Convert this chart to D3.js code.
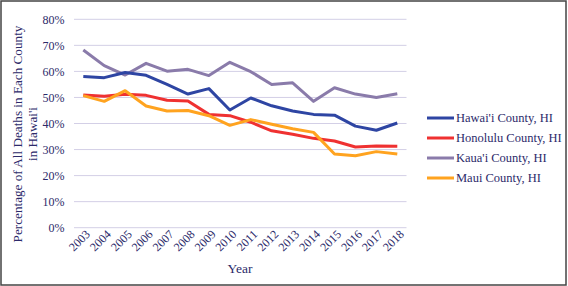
<!DOCTYPE html>
<html><head><meta charset="utf-8">
<script src="https://cdn.jsdelivr.net/npm/d3@7"></script>
<style>body{margin:0;background:#fff}svg{display:block}</style>
</head><body>
<script>
const years = ["2003","2004","2005","2006","2007","2008","2009","2010","2011","2012","2013","2014","2015","2016","2017","2018"];
const hawaii   = [58.0,57.6,59.6,58.5,55.0,51.3,53.4,45.2,49.8,46.8,44.8,43.5,43.2,39.0,37.4,40.2];
const honolulu = [50.9,50.5,51.2,50.8,48.9,48.6,43.5,43.0,40.5,37.2,35.9,34.3,33.3,31.0,31.4,31.3];
const kauai    = [68.2,62.2,58.6,63.1,60.1,60.8,58.4,63.5,59.9,55.0,55.6,48.5,53.7,51.3,50.0,51.4];
const maui     = [50.7,48.5,52.6,46.7,44.8,45.0,43.0,39.3,41.5,39.7,38.0,36.6,28.3,27.6,29.2,28.3];
const seriesNames = ["Hawai'i County, HI","Honolulu County, HI","Kaua'i County, HI","Maui County, HI"];
const seriesColors = ["#2E45A3","#EF3131","#8A7BAA","#FFA31F"];
const yTicks = [0,10,20,30,40,50,60,70,80];

const W=568,H=286;
const svg=d3.select("body").append("svg").attr("width",W).attr("height",H);
svg.append("rect").attr("x",1).attr("y",1).attr("width",W-3).attr("height",H-2)
  .attr("fill","#fff").attr("stroke","#444").attr("stroke-width",1.5);

const textColor="#2C2A6A";
const font="'Liberation Serif','Times New Roman',serif";
const x=d3.scalePoint().domain(years).range([83.3,397.3]);
const y=d3.scaleLinear().domain([0,80]).range([227.7,19.3]);

// gridlines
svg.append("g").selectAll("line").data(yTicks).join("line")
  .attr("x1",74).attr("x2",406.5).attr("y1",d=>y(d)).attr("y2",d=>y(d))
  .attr("stroke","#D3CFE6").attr("stroke-width",1);

// y axis labels
const yAxis=d3.axisLeft(y).tickValues(yTicks).tickFormat(d=>d+"%").tickSize(0).tickPadding(0);
const ga=svg.append("g").attr("transform","translate(64.5,0)").call(yAxis);
ga.select(".domain").remove();
ga.selectAll("text").attr("fill",textColor).style("font-family",font).style("font-size","12px");

// x axis labels
const xAxis=d3.axisBottom(x).tickSize(0).tickPadding(0);
const gx=svg.append("g").attr("transform","translate(0,230)").call(xAxis);
gx.select(".domain").remove();
gx.selectAll("text").attr("fill",textColor).style("font-family",font).style("font-size","12px")
  .attr("text-anchor","end").attr("y",0).attr("dy","0.35em").attr("transform","translate(4,2) rotate(-45)");

// titles
svg.append("text").attr("x",240).attr("y",273).attr("text-anchor","middle")
  .attr("fill",textColor).style("font-family",font).style("font-size","13.5px").text("Year");
const yt=svg.append("text").attr("transform","translate(22,134) rotate(-90)").attr("text-anchor","middle")
  .attr("fill",textColor).style("font-family",font).style("font-size","13.2px");
yt.append("tspan").attr("x",0).attr("dy",0).text("Percentage of All Deaths in Each County");
yt.append("tspan").attr("x",0).attr("dy",15).text("in Hawai'i");

// lines
const data=[hawaii,honolulu,kauai,maui];
const line=d3.line().x((d,i)=>x(years[i])).y(d=>y(d));
const drawOrder=[2,0,1,3];
drawOrder.forEach(k=>{
  svg.append("path").datum(data[k]).attr("d",line).attr("fill","none")
    .attr("stroke",seriesColors[k]).attr("stroke-width",3).attr("stroke-linejoin","round");
});

// legend
const lg=svg.append("g");
seriesNames.forEach((n,i)=>{
  const yy=118+i*20;
  lg.append("line").attr("x1",427).attr("x2",454).attr("y1",yy).attr("y2",yy)
    .attr("stroke",seriesColors[i]).attr("stroke-width",3);
  lg.append("text").attr("x",456).attr("y",yy).attr("dy","0.35em").attr("fill",textColor)
    .style("font-family",font).style("font-size","12.5px").text(n);
});
</script>
</body></html>
